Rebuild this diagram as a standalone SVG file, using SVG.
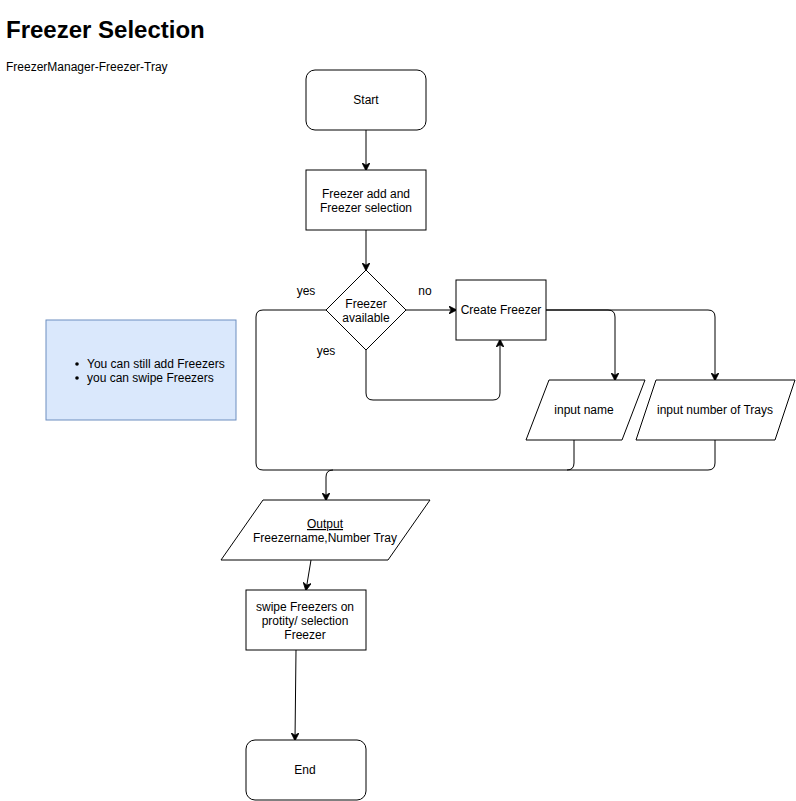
<svg xmlns="http://www.w3.org/2000/svg" width="796" height="801" viewBox="0 0 796 801">
<defs>
<style>
.s{fill:#fff;stroke:#000;stroke-width:1}
.t{font-family:"Liberation Sans",Arial,sans-serif;font-size:12px;fill:#000;text-anchor:middle}
.l{font-family:"Liberation Sans",Arial,sans-serif;font-size:12px;fill:#000}
.c{fill:none;stroke:#000;stroke-width:1}
</style>
<marker id="a" viewBox="0 0 10 10" refX="9" refY="5" markerWidth="8" markerHeight="8" markerUnits="userSpaceOnUse" orient="auto">
<path d="M0,0 L10,5 L0,10 L3,5 Z" fill="#000" stroke="#000" stroke-width="1"/>
</marker>
</defs>
<rect width="796" height="801" fill="#fff"/>
<text x="6" y="38" style="font-family:'Liberation Sans',Arial,sans-serif;font-size:24px;font-weight:bold">Freezer Selection</text>
<text x="6" y="71" class="l">FreezerManager-Freezer-Tray</text>

<g id="connectors">
<path class="c" d="M366,130 L366,170" marker-end="url(#a)"/>
<path class="c" d="M366,230 L366,270" marker-end="url(#a)"/>
<path class="c" d="M406,310 L456,310" marker-end="url(#a)"/>
<path class="c" d="M366,350 L366,393 Q366,400 373,400 L493,400 Q500,400 500,393 L500,340" marker-end="url(#a)"/>
<path class="c" d="M326,310 L263,310 Q256,310 256,317 L256,463 Q256,470 263,470 L708,470 Q715,470 715,463 L715,440"/>
<path class="c" d="M574,440 L574,463 Q574,470 567,470"/>
<path class="c" d="M333,470 Q326,470 326,477 L326,500" marker-end="url(#a)"/>
<path class="c" d="M546,310 L608,310 Q615,310 615,317 L615,380" marker-end="url(#a)"/>
<path class="c" d="M546,310 L708,310 Q715,310 715,317 L715,380" marker-end="url(#a)"/>
<path class="c" d="M311,560 L306,590" marker-end="url(#a)"/>
<path class="c" d="M296,650 L295,740" marker-end="url(#a)"/>
</g>

<g id="start"><rect class="s" x="306" y="70" width="120" height="60" rx="9"/><text class="t" x="366" y="104">Start</text></g>
<g id="add"><rect class="s" x="306" y="170" width="120" height="60"/><text class="t" x="366" y="198">Freezer add and</text><text class="t" x="366" y="212">Freezer selection</text></g>
<g id="decision"><path class="s" d="M366,270 L406,310 L366,350 L326,310 Z"/><text class="t" x="366" y="308">Freezer</text><text class="t" x="366" y="322">available</text></g>
<g id="create"><rect class="s" x="456" y="280" width="90" height="60"/><text class="t" x="501" y="314">Create Freezer</text></g>
<g id="inname"><path class="s" d="M549,380 L645,380 L622,440 L526,440 Z"/><text class="t" x="584" y="414">input name</text></g>
<g id="intrays"><path class="s" d="M656,380 L795,380 L775,440 L636,440 Z"/><text class="t" x="715" y="414">input number of Trays</text></g>
<g id="output"><path class="s" d="M263,500 L430,500 L388,560 L221,560 Z"/><text class="t" x="325" y="528" text-decoration="underline">Output</text><text class="t" x="325" y="542">Freezername,Number Tray</text></g>
<g id="swipe"><rect class="s" x="246" y="590" width="120" height="60"/><text class="t" x="305" y="611">swipe Freezers on</text><text class="t" x="305" y="625">protity/ selection</text><text class="t" x="305" y="639">Freezer</text></g>
<g id="end"><rect class="s" x="246" y="740" width="120" height="60" rx="9"/><text class="t" x="305" y="774">End</text></g>
<g id="note"><rect x="46" y="320" width="190" height="100" fill="#dae8fc" stroke="#6c8ebf"/><circle cx="77" cy="364" r="1.8" fill="#000"/><circle cx="77" cy="378" r="1.8" fill="#000"/><text class="l" x="87" y="368">You can still add Freezers</text><text class="l" x="87" y="382">you can swipe Freezers</text></g>
<g id="labels"><text class="t" x="306" y="295">yes</text><text class="t" x="425" y="295">no</text><text class="t" x="326" y="355">yes</text></g>
</svg>
